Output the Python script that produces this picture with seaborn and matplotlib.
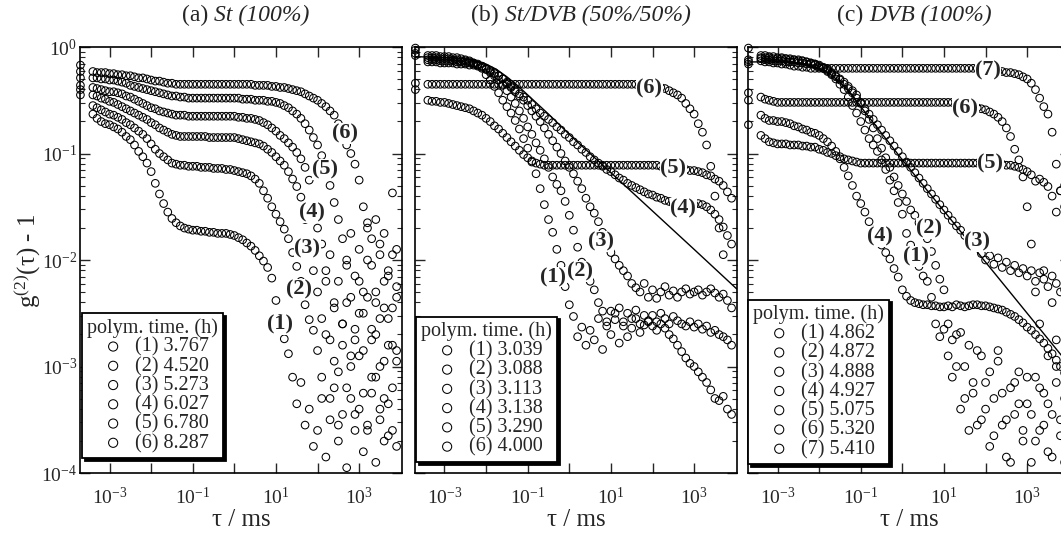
import numpy as np
import matplotlib
matplotlib.use("Agg")
import matplotlib.pyplot as plt
from matplotlib import ticker, transforms
import seaborn as sns

# lag times (log10 of tau in ms), shared by all three panels
tau_exp = [-3.7, -3.4, -3.3, -3.2, -3.1,
           -3.0, -2.9, -2.8, -2.7, -2.6, -2.5, -2.4, -2.3, -2.2, -2.1,
           -2.0, -1.9, -1.8, -1.7, -1.6, -1.5, -1.4, -1.3, -1.2, -1.1,
           -1.0, -0.9, -0.8, -0.7, -0.6, -0.5, -0.4, -0.3, -0.2, -0.1,
           0.0, 0.1, 0.2, 0.3, 0.4, 0.5, 0.6, 0.7, 0.8, 0.9,
           1.0, 1.1, 1.2, 1.3, 1.4, 1.5, 1.6, 1.7, 1.8, 1.9,
           2.0, 2.1, 2.2, 2.3, 2.4, 2.5, 2.6, 2.7, 2.8, 2.9,
           3.0, 3.1, 3.2, 3.3, 3.4, 3.5, 3.6, 3.7, 3.8, 3.9]

nan = np.nan

# (a) St 100% -- log10(g2 - 1)
st_1 = [-0.45, -0.63, -0.67, -0.70, -0.72,
        -0.73, -0.75, -0.77, -0.80, -0.84, -0.87, -0.92, -0.98, -1.03, -1.09,
        -1.17, -1.28, -1.38, -1.47, -1.55, -1.61, -1.65, -1.68, -1.70, -1.71,
        -1.72, -1.72, -1.73, -1.73, -1.74, -1.74, -1.75, -1.75, -1.75, -1.76,
        -1.77, -1.79, -1.81, -1.84, -1.87, -1.91, -1.96, -2.01, -2.07, -2.17,
        -2.38, -2.55, -2.74, -2.88, -3.10, -3.35, -3.15, -3.55, -3.40, -3.75,
        -3.60, -3.30, -3.85, -3.50, -3.20, -3.70, -3.45, -3.95, -3.30, -3.60,
        -3.40, -3.80, -3.55, -3.25, -3.90, -3.50, -3.70, -3.35, -3.60, -3.75]
st_2 = [-0.40, -0.55, -0.57, -0.59, -0.61,
        -0.63, -0.64, -0.66, -0.68, -0.71, -0.73, -0.76, -0.79, -0.82, -0.86,
        -0.91, -0.96, -1.00, -1.03, -1.06, -1.09, -1.10, -1.11, -1.11, -1.12,
        -1.12, -1.12, -1.13, -1.13, -1.13, -1.14, -1.14, -1.14, -1.15, -1.15,
        -1.16, -1.17, -1.18, -1.19, -1.21, -1.24, -1.28, -1.35, -1.42, -1.50,
        -1.57, -1.64, -1.71, -1.80, -1.93, -2.06, -2.20, -2.42, -2.56, -2.66,
        -2.85, -3.10, -2.70, -3.30, -2.95, -3.55, -2.80, -3.20, -3.00, -3.45,
        -2.90, -3.25, -3.60, -2.75, -3.10, -3.40, -2.95, -3.65, -3.20, -2.85]
st_3 = [-0.36, -0.45, -0.46, -0.48, -0.49,
        -0.51, -0.52, -0.54, -0.56, -0.58, -0.60, -0.62, -0.64, -0.66, -0.68,
        -0.71, -0.73, -0.76, -0.78, -0.80, -0.82, -0.83, -0.84, -0.84, -0.84,
        -0.84, -0.84, -0.84, -0.84, -0.85, -0.85, -0.85, -0.85, -0.85, -0.85,
        -0.85, -0.86, -0.87, -0.88, -0.89, -0.90, -0.91, -0.93, -0.96, -0.99,
        -1.03, -1.07, -1.11, -1.17, -1.24, -1.31, -1.41, -1.62, -1.95, -2.10,
        -2.30, -2.55, -2.20, -2.75, -2.45, -3.05, -2.60, -2.40, -2.90, -2.65,
        -2.50, -2.85, -2.35, -3.10, -2.70, -2.55, -3.30, -2.80, -2.45, -2.95]
st_4 = [-0.29, -0.38, -0.39, -0.40, -0.41,
        -0.42, -0.42, -0.43, -0.44, -0.46, -0.47, -0.49, -0.51, -0.53, -0.55,
        -0.57, -0.58, -0.60, -0.61, -0.62, -0.63, -0.64, -0.64, -0.64, -0.65,
        -0.65, -0.65, -0.65, -0.65, -0.65, -0.65, -0.65, -0.65, -0.65, -0.65,
        -0.65, -0.66, -0.66, -0.67, -0.67, -0.68, -0.69, -0.71, -0.73, -0.76,
        -0.79, -0.83, -0.86, -0.90, -0.94, -0.99, -1.05, -1.13, -1.25, -1.50,
        -1.70, -1.85, -2.10, -1.95, -2.40, -2.20, -2.60, -2.05, -2.35, -2.75,
        -2.20, -2.50, -2.00, -2.65, -2.30, -3.00, -2.45, -2.15, -2.80, -2.35]
st_5 = [-0.23, -0.29, -0.29, -0.30, -0.30,
        -0.31, -0.31, -0.32, -0.33, -0.34, -0.36, -0.37, -0.38, -0.39, -0.40,
        -0.41, -0.42, -0.43, -0.44, -0.45, -0.46, -0.46, -0.47, -0.47, -0.48,
        -0.48, -0.48, -0.48, -0.48, -0.48, -0.48, -0.48, -0.48, -0.48, -0.48,
        -0.48, -0.48, -0.49, -0.49, -0.49, -0.50, -0.50, -0.50, -0.51, -0.51,
        -0.52, -0.53, -0.55, -0.57, -0.60, -0.63, -0.67, -0.72, -0.78, -0.85,
        -0.92, -1.02, -1.15, -1.30, -1.46, -1.62, -1.80, -2.00, -1.75, -2.15,
        -1.90, -2.30, -1.70, -2.05, -2.40, -1.85, -2.20, -2.55, -1.95, -2.25]
st_6 = [-0.17, -0.23, -0.24, -0.24, -0.24,
        -0.25, -0.25, -0.26, -0.26, -0.27, -0.27, -0.28, -0.29, -0.29, -0.30,
        -0.31, -0.32, -0.32, -0.33, -0.34, -0.34, -0.35, -0.35, -0.35, -0.35,
        -0.35, -0.35, -0.35, -0.35, -0.35, -0.35, -0.35, -0.35, -0.35, -0.35,
        -0.35, -0.35, -0.35, -0.35, -0.35, -0.36, -0.36, -0.36, -0.36, -0.37,
        -0.37, -0.38, -0.38, -0.39, -0.40, -0.41, -0.42, -0.44, -0.46, -0.48,
        -0.50, -0.53, -0.56, -0.60, -0.64, -0.72, -0.81, -0.92, -1.00, -1.10,
        -1.25, -1.50, -1.65, -1.80, -1.62, -1.95, -1.75, -2.10, -1.37, -1.90]

# (b) St/DVB 50%/50%
sd_1 = [-0.01, -0.08, -0.08, -0.08, -0.09,
        -0.09, -0.09, -0.10, -0.10, -0.11, -0.12, -0.13, -0.15, -0.17, -0.20,
        -0.26, -0.31, -0.37, -0.43, -0.50, -0.56, -0.62, -0.69, -0.77, -0.86,
        -0.95, -1.08, -1.19, -1.33, -1.48, -1.62, -1.74, -1.90, -2.05, -2.25,
        -2.42, -2.53, -2.72, -2.63, -2.80, -2.66, -2.75, -2.55, -2.84, -2.62,
        -2.70, -2.50, -2.78, -2.58, -2.72, -2.64, -2.55, -2.68, -2.61, -2.58,
        -2.62, -2.66, -2.60, -2.64, -2.70, -2.74, -2.80, -2.86, -2.92, -2.97,
        -3.00, -3.05, -3.10, -3.15, -3.22, -3.30, -3.32, -3.28, -3.40, -3.45]
sd_2 = [-0.03, -0.10, -0.10, -0.10, -0.11,
        -0.11, -0.11, -0.12, -0.12, -0.13, -0.13, -0.14, -0.15, -0.16, -0.18,
        -0.21, -0.24, -0.27, -0.31, -0.36, -0.41, -0.47, -0.53, -0.60, -0.67,
        -0.75, -0.82, -0.90, -0.97, -1.05, -1.13, -1.22, -1.29, -1.35, -1.45,
        -1.58, -1.72, -1.88, -2.02, -2.12, -2.20, -2.28, -2.40, -2.48, -2.58,
        -2.48, -2.56, -2.45, -2.62, -2.50, -2.55, -2.47, -2.60, -2.52, -2.57,
        -2.52, -2.58, -2.50, -2.55, -2.60, -2.53, -2.57, -2.60, -2.62, -2.58,
        -2.63, -2.60, -2.65, -2.62, -2.68, -2.66, -2.70, -2.72, -2.75, -2.80]
sd_3 = [-0.06, -0.12, -0.12, -0.12, -0.13,
        -0.13, -0.13, -0.13, -0.14, -0.14, -0.15, -0.15, -0.16, -0.17, -0.18,
        -0.20, -0.22, -0.24, -0.27, -0.30, -0.34, -0.38, -0.42, -0.46, -0.50,
        -0.55, -0.60, -0.65, -0.70, -0.76, -0.82, -0.88, -0.94, -1.00, -1.07,
        -1.13, -1.19, -1.26, -1.33, -1.42, -1.50, -1.56, -1.64, -1.74, -1.84,
        -1.93, -1.99, -2.05, -2.10, -2.15, -2.22, -2.26, -2.30, -2.22, -2.35,
        -2.28, -2.36, -2.30, -2.25, -2.33, -2.29, -2.35, -2.30, -2.27, -2.32,
        -2.30, -2.28, -2.33, -2.30, -2.27, -2.31, -2.35, -2.32, -2.38, -2.45]
sd_4 = [-0.08, -0.14, -0.14, -0.14, -0.15,
        -0.15, -0.15, -0.15, -0.16, -0.16, -0.16, -0.17, -0.17, -0.18, -0.19,
        -0.21, -0.23, -0.25, -0.27, -0.30, -0.33, -0.37, -0.40, -0.44, -0.47,
        -0.50, -0.54, -0.58, -0.62, -0.65, -0.68, -0.71, -0.75, -0.78, -0.82,
        -0.85, -0.89, -0.92, -0.96, -0.99, -1.03, -1.06, -1.09, -1.12, -1.15,
        -1.17, -1.20, -1.23, -1.25, -1.28, -1.30, -1.32, -1.34, -1.36, -1.38,
        -1.39, -1.41, -1.42, -1.44, -1.45, -1.47, -1.48, -1.50, -1.50, -1.49,
        -1.48, -1.47, -1.48, -1.50, -1.53, -1.57, -1.62, -1.69, -1.77, -1.85]
sd_5 = [-0.40, -0.50, -0.51, -0.51, -0.52,
        -0.52, -0.53, -0.54, -0.55, -0.56, -0.57, -0.58, -0.60, -0.62, -0.64,
        -0.67, -0.70, -0.74, -0.77, -0.81, -0.85, -0.89, -0.93, -0.97, -1.01,
        -1.04, -1.07, -1.09, -1.10, -1.11, -1.11, -1.11, -1.11, -1.11, -1.11,
        -1.11, -1.11, -1.11, -1.11, -1.11, -1.11, -1.11, -1.11, -1.11, -1.11,
        -1.11, -1.11, -1.11, -1.11, -1.11, -1.11, -1.11, -1.11, -1.11, -1.11,
        -1.11, -1.11, -1.12, -1.12, -1.13, -1.14, -1.14, -1.15, -1.15, -1.16,
        -1.16, -1.17, -1.18, -1.20, -1.21, -1.24, -1.26, -1.30, -1.36, -1.42]
sd_6 = [-0.34, -0.35, -0.35, -0.35, -0.35,
        -0.35, -0.35, -0.35, -0.35, -0.35, -0.35, -0.35, -0.35, -0.35, -0.35,
        -0.35, -0.35, -0.35, -0.35, -0.35, -0.35, -0.35, -0.35, -0.35, -0.35,
        -0.35, -0.35, -0.35, -0.35, -0.35, -0.35, -0.35, -0.35, -0.35, -0.35,
        -0.35, -0.35, -0.35, -0.35, -0.35, -0.35, -0.35, -0.35, -0.35, -0.35,
        -0.35, -0.35, -0.35, -0.35, -0.35, -0.35, -0.35, -0.35, -0.35, -0.35,
        -0.36, -0.37, -0.38, -0.39, -0.41, -0.43, -0.45, -0.48, -0.53, -0.58,
        -0.63, -0.72, -0.80, -0.92, -1.12, -1.40, -1.70, -1.95, nan, nan]

# (c) DVB 100%
dvb_1 = [-0.01, -0.08, -0.08, -0.09, -0.09,
         -0.10, -0.10, -0.11, -0.11, -0.12, -0.12, -0.13, -0.14, -0.15, -0.16,
         -0.18, -0.20, -0.23, -0.26, -0.30, -0.35, -0.40, -0.47, -0.55, -0.62,
         -0.70, -0.78, -0.86, -0.92, -0.98, -1.06, -1.15, -1.25, -1.35, -1.46,
         -1.57, -1.75, -1.86, -1.97, -2.06, -2.15, -2.20, -2.35, -2.60, -2.72,
         -2.65, -2.90, -3.10, -2.70, -3.40, -3.00, -3.60, -3.25, -2.85, -3.50,
         -3.15, -3.75, -3.30, -2.95, -3.55, -3.85, -3.20, -3.45, -3.05, -3.70,
         -3.35, -3.90, -3.10, -3.60, -3.25, -3.80, -3.45, -3.00, -3.65, -3.30]
dvb_2 = [-0.12, -0.10, -0.10, -0.10, -0.11,
         -0.11, -0.11, -0.11, -0.12, -0.12, -0.13, -0.13, -0.14, -0.15, -0.16,
         -0.17, -0.19, -0.21, -0.24, -0.27, -0.30, -0.33, -0.37, -0.41, -0.45,
         -0.52, -0.60, -0.68, -0.76, -0.86, -0.95, -1.04, -1.13, -1.22, -1.30,
         -1.38, -1.45, -1.53, -1.58, -1.65, -1.72, -1.80, -1.92, -2.05, -2.18,
         -2.28, -2.60, -2.75, -3.00, -2.68, -3.30, -2.80, -3.15, -3.55, -2.90,
         -3.40, -3.05, -3.65, -2.85, -3.25, -3.50, -3.90, -3.15, -3.35, -3.60,
         -3.10, -3.45, -3.70, -3.20, -3.55, -3.35, -3.85, -3.15, -3.50, -3.90]
dvb_3 = [-0.14, -0.11, -0.12, -0.12, -0.13,
         -0.13, -0.13, -0.14, -0.14, -0.14, -0.15, -0.15, -0.16, -0.16, -0.17,
         -0.19, -0.20, -0.22, -0.25, -0.28, -0.31, -0.35, -0.39, -0.43, -0.48,
         -0.53, -0.58, -0.63, -0.68, -0.73, -0.78, -0.83, -0.88, -0.93, -0.98,
         -1.03, -1.08, -1.13, -1.18, -1.23, -1.28, -1.33, -1.38, -1.43, -1.48,
         -1.53, -1.58, -1.63, -1.68, -1.72, -1.77, -1.81, -1.85, -1.88, -1.94,
         -2.00, -1.96, -2.04, -1.98, -2.07, -2.02, -2.10, -2.05, -2.12, -2.08,
         -2.15, -2.10, -2.20, -2.12, -2.18, -2.25, -2.15, -2.22, -2.30, -2.28]
dvb_4 = [-0.50, -0.64, -0.67, -0.69, -0.69,
         -0.70, -0.70, -0.71, -0.72, -0.74, -0.75, -0.77, -0.78, -0.80, -0.81,
         -0.83, -0.86, -0.89, -0.93, -0.98, -1.05, -1.13, -1.21, -1.30, -1.40,
         -1.47, -1.55, -1.64, -1.72, -1.80, -1.86, -1.93, -1.99, -2.08, -2.16,
         -2.28, -2.34, -2.38, -2.40, -2.41, -2.42, -2.42, -2.43, -2.43, -2.44,
         -2.44, -2.43, -2.44, -2.42, -2.43, -2.44, -2.43, -2.42, -2.42, -2.43,
         -2.43, -2.44, -2.45, -2.46, -2.47, -2.49, -2.51, -2.53, -2.56, -2.59,
         -2.63, -2.66, -2.70, -2.74, -2.78, -2.83, -2.88, -2.94, -3.00, -3.06]
dvb_5 = [-0.73, -0.83, -0.86, -0.89, -0.90,
         -0.91, -0.91, -0.91, -0.92, -0.92, -0.92, -0.93, -0.93, -0.94, -0.94,
         -0.96, -0.97, -0.99, -1.00, -1.02, -1.03, -1.05, -1.06, -1.07, -1.08,
         -1.09, -1.09, -1.09, -1.09, -1.09, -1.09, -1.09, -1.09, -1.09, -1.09,
         -1.09, -1.09, -1.09, -1.09, -1.09, -1.09, -1.09, -1.09, -1.09, -1.09,
         -1.09, -1.09, -1.09, -1.09, -1.09, -1.09, -1.09, -1.09, -1.09, -1.09,
         -1.09, -1.09, -1.10, -1.10, -1.10, -1.11, -1.11, -1.12, -1.13, -1.15,
         -1.17, -1.20, -1.26, -1.24, -1.27, -1.31, -1.40, -1.55, -1.35, -1.30]
dvb_6 = [-0.43, -0.47, -0.49, -0.50, -0.51,
         -0.52, -0.52, -0.52, -0.52, -0.52, -0.52, -0.52, -0.52, -0.52, -0.52,
         -0.52, -0.52, -0.52, -0.52, -0.52, -0.52, -0.52, -0.52, -0.52, -0.52,
         -0.52, -0.52, -0.52, -0.52, -0.52, -0.52, -0.52, -0.52, -0.52, -0.52,
         -0.52, -0.52, -0.52, -0.52, -0.52, -0.52, -0.52, -0.52, -0.52, -0.52,
         -0.52, -0.52, -0.52, -0.53, -0.54, -0.55, -0.55, -0.56, -0.57, -0.58,
         -0.59, -0.61, -0.63, -0.66, -0.70, -0.76, -0.84, -0.96, -1.06, -1.22,
         -1.50, -1.85, -2.30, -2.60, -2.10, -2.90, -2.40, -2.75, nan, nan]
dvb_7 = [-0.16, -0.13, -0.14, -0.14, -0.15,
         -0.15, -0.16, -0.16, -0.17, -0.18, -0.18, -0.19, -0.19, -0.20, -0.20,
         -0.20, -0.20, -0.20, -0.20, -0.20, -0.20, -0.20, -0.20, -0.20, -0.20,
         -0.20, -0.20, -0.20, -0.20, -0.20, -0.20, -0.20, -0.20, -0.20, -0.20,
         -0.20, -0.20, -0.20, -0.20, -0.20, -0.20, -0.20, -0.20, -0.20, -0.20,
         -0.20, -0.20, -0.20, -0.20, -0.20, -0.20, -0.20, -0.20, -0.20, -0.20,
         -0.21, -0.22, -0.22, -0.23, -0.23, -0.24, -0.24, -0.25, -0.26, -0.28,
         -0.30, -0.34, -0.40, -0.48, -0.56, -0.63, -0.80, -1.10, -1.35, -1.50]

# fitted curves drawn as solid lines in (b) and (c)
fit_b_exp = [-3.72, -3.0, -2.5, -2.25, -2.0, -1.75, -1.5, -1.25, -1.0, -0.5, 0.0, 1.0, 2.0, 3.0, 4.02]
fit_b_log = [-0.09, -0.10, -0.11, -0.13, -0.16, -0.21, -0.28, -0.36, -0.45, -0.63, -0.82, -1.18, -1.54, -1.90, -2.27]
fit_c_exp = [-3.72, -3.0, -2.5, -2.25, -2.0, -1.75, -1.5, -1.25, -1.0, -0.5, 0.0, 1.0, 2.0, 3.0, 4.02]
fit_c_log = [-0.14, -0.14, -0.15, -0.17, -0.20, -0.25, -0.33, -0.43, -0.56, -0.81, -1.06, -1.54, -2.02, -2.50, -2.99]

# legend entries (polymerisation time, h)
times_a = ["3.767", "4.520", "5.273", "6.027", "6.780", "8.287"]
times_b = ["3.039", "3.088", "3.113", "3.138", "3.290", "4.000"]
times_c = ["4.862", "4.872", "4.888", "4.927", "5.075", "5.320", "5.410"]

# where the (n) tags sit: log10 tau, log10 g
tags_a = [(1.10, -2.61), (1.56, -2.28), (1.75, -1.89), (1.87, -1.55), (2.18, -1.15), (2.66, -0.81)]
tags_b = [(-0.38, -2.16), (0.25, -2.11), (0.75, -1.83), (2.74, -1.52), (2.50, -1.14), (1.92, -0.39)]
tags_c = [(0.33, -1.97), (0.65, -1.70), (1.80, -1.83), (-0.55, -1.78), (2.11, -1.09), (1.51, -0.58), (2.06, -0.22)]

sns.set_style("ticks")
plt.rcParams["font.family"] = ["Liberation Serif", "DejaVu Serif"]
plt.rcParams["mathtext.fontset"] = "custom"
plt.rcParams["mathtext.rm"] = "Liberation Serif"
plt.rcParams["mathtext.it"] = "Liberation Serif:italic"
plt.rcParams["mathtext.bf"] = "Liberation Serif:bold"

fig = plt.figure(figsize=(10.61, 5.36), dpi=100)
fig.patch.set_facecolor("white")

tau = 10.0 ** np.array(tau_exp)

panels = [
    dict(curves=[st_1, st_2, st_3, st_4, st_5, st_6], times=times_a, tags=tags_a, fit=None,
         title=("(a)", "St (100%)"), left=0.0754, anchor=(0.006, 0.035)),
    dict(curves=[sd_1, sd_2, sd_3, sd_4, sd_5, sd_6], times=times_b, tags=tags_b,
         fit=(fit_b_exp, fit_b_log), title=("(b)", "St/DVB (50%/50%)"), left=0.3911, anchor=(0.003, 0.026)),
    dict(curves=[dvb_1, dvb_2, dvb_3, dvb_4, dvb_5, dvb_6, dvb_7], times=times_c, tags=tags_c,
         fit=(fit_c_exp, fit_c_log), title=("(c)", "DVB (100%)"), left=0.7050, anchor=(0.0, 0.021)),
]


def odd_decades(v, pos):
    e = int(round(np.log10(v)))
    return r"$\mathdefault{10^{%d}}$" % e if e % 2 else ""


def mixed_title(ax, prefix, italic, size=17):
    y = 1.075
    t1 = ax.text(0.5, y, prefix, transform=ax.transAxes, fontsize=size, ha="left", va="center")
    t2 = ax.text(0.5, y, italic, transform=ax.transAxes, fontsize=size, style="italic",
                 ha="left", va="center")
    r = fig.canvas.get_renderer()
    w1 = t1.get_window_extent(r).width
    w2 = t2.get_window_extent(r).width
    gap = 0.25 * size * fig.dpi / 72
    total = w1 + gap + w2
    t1.set_transform(transforms.offset_copy(ax.transAxes, fig=fig, x=-total / 2 + 5, y=0, units="dots"))
    t2.set_transform(transforms.offset_copy(ax.transAxes, fig=fig, x=-total / 2 + 5 + w1 + gap, y=0,
                                            units="dots"))


for k, p in enumerate(panels):
    ax = fig.add_axes([p["left"], 0.1175, 0.3035, 0.7948])
    ax.set_xscale("log")
    ax.set_yscale("log")

    for i, (logg, t) in enumerate(zip(p["curves"], p["times"]), start=1):
        sns.scatterplot(x=tau, y=10.0 ** np.array(logg), ax=ax, marker="o", s=30,
                        facecolor="none", edgecolor="black", linewidth=0.75,
                        label=f"({i}) {t}", clip_on=False)

    if p["fit"] is not None:
        fx, fy = p["fit"]
        sns.lineplot(x=10.0 ** np.array(fx), y=10.0 ** np.array(fy), ax=ax, color="black",
                     linewidth=1.0, sort=False, estimator=None, legend=False)

    for i, (lx, ly) in enumerate(p["tags"], start=1):
        ax.text(10.0 ** lx, 10.0 ** ly, f"({i})", ha="center", va="center", fontsize=16,
                fontweight="bold", zorder=6,
                bbox=dict(facecolor="white", edgecolor="none", pad=0.3))

    ax.set_xlim(10.0 ** -3.71, 10.0 ** 4.03)
    ax.set_ylim(1e-4, 1.0)
    ax.xaxis.set_major_locator(ticker.FixedLocator(10.0 ** np.arange(-3, 4)))
    ax.xaxis.set_major_formatter(ticker.FuncFormatter(odd_decades))
    ax.xaxis.set_minor_locator(ticker.NullLocator())
    ax.yaxis.set_major_locator(ticker.LogLocator(base=10, numticks=10))
    ax.yaxis.set_minor_locator(ticker.LogLocator(base=10, subs=np.arange(2, 10), numticks=10))
    ax.yaxis.set_minor_formatter(ticker.NullFormatter())
    ax.tick_params(which="both", direction="in", top=True, right=True, labelsize=14)
    ax.tick_params(which="major", length=7, width=1.0)
    ax.tick_params(which="minor", length=3.5, width=0.8)
    ax.tick_params(axis="x", pad=10)
    ax.tick_params(axis="y", pad=2)
    if k > 0:
        ax.tick_params(labelleft=False)
    for s in ax.spines.values():
        s.set_linewidth(1.2)
        s.set_color("black")

    ax.set_xlabel("τ / ms", fontsize=18, labelpad=1)
    ax.set_ylabel("")

    leg = ax.legend(title="polym. time. (h)", loc="lower left", bbox_to_anchor=p["anchor"],
                    borderaxespad=0, fancybox=False, edgecolor="black", framealpha=1,
                    shadow={"color": "black", "alpha": 1}, fontsize=14.5, title_fontsize=14.5,
                    handlelength=2.6, handletextpad=-0.2, borderpad=0.25, labelspacing=0.0,
                    alignment="left", markerscale=1.2)
    leg.get_frame().set_linewidth(1.3)
    leg.set_zorder(10)

    mixed_title(ax, p["title"][0], p["title"][1])

fig.text(27 / 1061, 1 - 261 / 536, "g$^{(2)}$(τ) - 1", rotation=90, ha="center", va="center",
         fontsize=18)

fig.savefig("out.png", dpi=100)
